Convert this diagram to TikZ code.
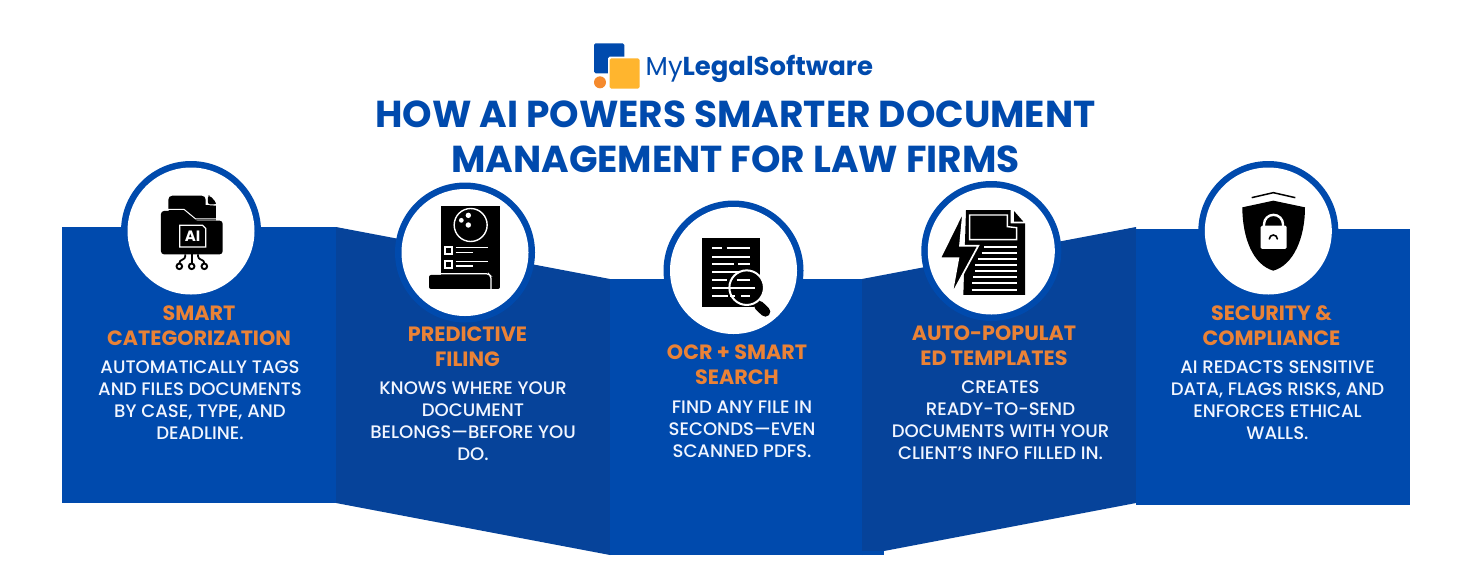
\documentclass[tikz,border=0pt]{standalone}
\usepackage{fontspec}
\setmainfont{Poppins}
\newfontfamily\popmed{Poppins Medium}
\definecolor{brandblue}{HTML}{004AAD}
\definecolor{darkblue}{HTML}{06439A}
\definecolor{brandorange}{HTML}{EA8236}
\definecolor{brandyellow}{HTML}{FFB52E}
\definecolor{logoorange}{HTML}{F58A2D}
\definecolor{bodywhite}{HTML}{F2F6FF}
\tikzset{
  panel/.style={fill=brandblue,draw=none},
  fold/.style={fill=darkblue,draw=none},
  ring/.style={circle,fill=brandblue,minimum size=140pt,inner sep=0pt,draw=none},
  disc/.style={circle,fill=white,minimum size=127pt,inner sep=0pt,draw=none},
  head/.style={anchor=north,inner sep=0pt,align=center,text=brandorange,font=\fontsize{20.7}{24.6}\selectfont\bfseries},
  body/.style={anchor=north,inner sep=0pt,align=center,text=bodywhite,font=\fontsize{18.1}{22}\selectfont\popmed},
  titletext/.style={anchor=north,inner sep=0pt,align=center,text=brandblue,font=\fontsize{37.5}{45}\selectfont\bfseries},
  ink/.style={fill=black,draw=none},
}
\begin{document}
\begin{tikzpicture}[x=1pt,y=-1pt]
\useasboundingbox (0,0) rectangle (1471,576);
\fill[white] (0,0) rectangle (1471,576);
% panels
\path[panel] (62,227) rectangle (336,503);
\path[fold] (336,227) -- (610,279) -- (610,555) -- (336,503) -- cycle;
\path[fold] (862,279) -- (1136,227) -- (1136,503) -- (884,551) -- (862,555) -- cycle;
\path[panel] (610,279) -- (862,279) -- (862,555) -- (610,555) -- cycle;
\path[panel] (862,551) -- (884,551) -- (884,555) -- (862,555) -- cycle;
\path[panel] (1136,229) rectangle (1410,505);
% circles
\node[ring] (r1) at (191,231) {};   \node[disc] (d1) at (r1) {};
\node[ring] (r2) at (465,252.5) {}; \node[disc] (d2) at (r2) {};
\node[ring] (r3) at (733.5,270.5) {}; \node[disc] (d3) at (r3) {};
\node[ring] (r4) at (991.3,251) {}; \node[disc] (d4) at (r4) {};
\node[ring] (r5) at (1268.3,231) {}; \node[disc] (d5) at (r5) {};
% logo
\begin{scope}[shift={(560,30)},x=0.3333pt,y=-0.3333pt]
\fill[brandblue,rounded corners=1.6pt] (102,40) rectangle (193,130);
\fill[white,rounded corners=1.6pt] (144,80) rectangle (244,181);
\fill[brandyellow,rounded corners=1.6pt] (149,85) rectangle (239,176);
\fill[logoorange] (120,157) circle (6pt);
\end{scope}
\node[anchor=base west,inner sep=0pt,text=brandblue,font=\fontsize{25.9}{30}\selectfont] (logotext) at (645.5,75) {My\textbf{LegalSoftware}};
% title
\node[titletext] (title) at (735.5,101) {HOW AI POWERS SMARTER DOCUMENT\\MANAGEMENT FOR LAW FIRMS};
% icon 1
\begin{scope}[shift={(110,155)},x=0.3333pt,y=-0.3333pt]
\path[ink,rounded corners=4pt] (175,175) -- (175,122) -- (287,122) -- (287,175) -- cycle;
\path[ink,rounded corners=2pt] (294,122) -- (300,122) -- (318,142) -- (318,148) -- (294,148) -- cycle;
\path[ink] (287,150) -- (318,152) -- (318,196) -- (250,196) -- (220,170) -- (175,165) -- cycle;
\path[ink,rounded corners=3pt] (153,298) -- (153,168) -- (222,168) -- (255,197) -- (338,197) -- (338,298) -- cycle;
\draw[white,line width=1pt] (172,163) -- (222,163) -- (257,192) -- (322,192);
\draw[white,line width=1.3pt,fill=black] (209,211) -- (278,211) -- (287,220) -- (287,276) -- (209,276) -- cycle;
\node[inner sep=0pt,text=white,font=\fontsize{15}{15}\selectfont\bfseries] (aichip) at (248,244) {AI};
\draw[black,line width=1.8pt] (245,298) -- (245,325);
\draw[black,line width=1.8pt,rounded corners=3pt] (226,298) -- (226,312) -- (208,316) -- (208,325);
\draw[black,line width=1.8pt,rounded corners=3pt] (264,298) -- (264,312) -- (283,316) -- (283,325);
\draw[black,line width=1.9pt,fill=white] (208,334) circle (2.8pt) (245,334) circle (2.8pt) (283,334) circle (2.8pt);
\end{scope}
% icon 2
\begin{scope}[shift={(385,175)},x=0.3333pt,y=-0.3333pt]
\path[ink] (167,93) rectangle (345,310);
\path[ink,rounded corners=2pt] (132,342) -- (132,300) -- (345,300) -- (345,342) -- cycle;
\draw[white,line width=1.2pt,rounded corners=2pt] (167,296) -- (310,296) -- (318,304) -- (318,345);
\draw[white,line width=1.4pt] (257,150) circle (16.5pt);
\fill[white] (229,136) circle (2.4pt) (250,121) circle (2.7pt) (250,150) circle (2.7pt);
\draw[white,line width=2pt] (179,215) rectangle (200,236) (179,257) rectangle (200,278);
\draw[white,line width=1.5pt] (212,217) -- (310,217) (212,232) -- (265,232) (212,259) -- (310,259) (212,273) -- (265,273);
\end{scope}
% icon 3
\begin{scope}[shift={(655,205)},x=0.3333pt,y=-0.3333pt]
\path[ink] (142,98) rectangle (316,306);
\draw[white,line width=2pt] (172,130) -- (200,130) (215,130) -- (285,130) (172,155) -- (285,155) (172,178) -- (238,178) (250,178) -- (285,178) (172,202) -- (285,202) (172,226) -- (215,226) (172,250) -- (225,250) (172,274) -- (220,274);
\draw[white,line width=14pt] (306,296) -- (330,318);
\draw[black,line width=10pt,line cap=round] (312,302) -- (331,320);
\draw[white,line width=2pt,fill=black] (275,248) circle (17.3pt);
\draw[white,line width=2pt] (245,226) -- (285,226) (226,250) -- (300,250) (226,274) -- (240,274) (258,274) -- (285,274);
\end{scope}
% icon 4
\begin{scope}[shift={(910,175)},x=0.3333pt,y=-0.3333pt]
\path[ink] (168,105) -- (302,105) -- (302,145) -- (345,145) -- (345,360) -- (160,360) -- cycle;
\path[ink] (312,108) -- (340,140) -- (312,140) -- cycle;
\draw[white,line width=1.4pt,fill=black] (179,120) -- (292,120) -- (292,155) -- (320,158) -- (320,194) -- (179,194) -- cycle;
\draw[white,line width=1.8pt] (222,215) -- (320,215) (215,234) -- (320,234) (205,252) -- (320,252) (195,270) -- (320,270) (195,288) -- (320,288) (190,307) -- (320,307) (187,325) -- (320,325) (185,344) -- (320,344);
\draw[white,line width=1.7pt,fill=black,line join=miter] (160,108) -- (90,250) -- (145,250) -- (125,360) -- (205,212) -- (150,212) -- cycle;
\end{scope}
% icon 5
\begin{scope}[shift={(1190,155)},x=0.3333pt,y=-0.3333pt]
\path[ink] (250,137) -- (157,157) .. controls (157,250) and (190,330) .. (250,347) .. controls (310,330) and (345,250) .. (345,157) -- cycle;
\draw[black,line width=1.5pt] (185,128) -- (250,113) -- (316,128);
\draw[white,line width=2.4pt] (222,215) -- (222,208) arc[start angle=180,end angle=0,radius=9.5pt] -- (279,215);
\fill[white,rounded corners=1.5pt] (212,212) -- (290,212) -- (290,282) -- (212,282) -- cycle;
\draw[black,line width=1.6pt,line cap=round] (238,252) arc[start angle=180,end angle=0,radius=4pt];
\end{scope}
% text
\node[head] (h1) at (199,305.6) {SMART\\CATEGORIZATION};
\node[body] (b1) at (200,361) {AUTOMATICALLY TAGS\\AND FILES DOCUMENTS\\BY CASE, TYPE, AND\\DEADLINE.};
\node[head] (h2) at (467.5,326.6) {PREDICTIVE\\FILING};
\node[body] (b2) at (473,381.5) {KNOWS WHERE YOUR\\DOCUMENT\\BELONGS—BEFORE YOU\\DO.};
\node[head] (h3) at (737,345) {OCR + SMART\\SEARCH};
\node[body] (b3) at (742,401) {FIND ANY FILE IN\\SECONDS—EVEN\\SCANNED PDFS.};
\node[head] (h4) at (994,326) {AUTO-POPULAT\\ED TEMPLATES};
\node[body] (b4) at (1000.5,381) {CREATES\\READY-TO-SEND\\DOCUMENTS WITH YOUR\\CLIENT’S INFO FILLED IN.};
\node[head] (h5) at (1271.5,305.6) {SECURITY \&\\COMPLIANCE};
\node[body] (b5) at (1277.5,361) {AI REDACTS SENSITIVE\\DATA, FLAGS RISKS, AND\\ENFORCES ETHICAL\\WALLS.};
\end{tikzpicture}
\end{document}
